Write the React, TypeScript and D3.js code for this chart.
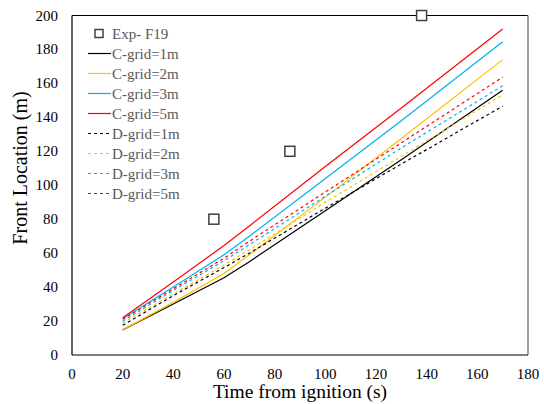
import React from "react";
import * as d3 from "d3";

const times = [20, 40, 60, 70, 100, 130, 170];
const cGrid1 = [14.8, 30, 45.5, 55, 85, 115, 156];
const cGrid2 = [14.8, 31, 48, 59, 93, 127.5, 174];
const cGrid3 = [21.3, 40, 59, 70, 104, 138, 184.5];
const cGrid5 = [22, 43, 64.5, 76, 111, 145.5, 192];
const dGrid1 = [17.5, 35, 51.5, 60, 86.5, 112.5, 146.6];
const dGrid2 = [19, 36, 53, 62, 90, 117, 153.3];
const dGrid3 = [20, 38, 55.5, 65, 93.5, 122, 158.6];
const dGrid5 = [21, 39, 57, 67, 96, 125, 163.7];
const expTimes = [56, 86, 138];
const expFront = [80, 120, 200];
const xTicks = [0, 20, 40, 60, 80, 100, 120, 140, 160, 180];
const yTicks = [0, 20, 40, 60, 80, 100, 120, 140, 160, 180, 200];

const seriesList = [
  { name: "C-grid=1m", values: cGrid1, color: "#000000", dashed: false },
  { name: "C-grid=2m", values: cGrid2, color: "#FFC000", dashed: false },
  { name: "C-grid=3m", values: cGrid3, color: "#00B0F0", dashed: false },
  { name: "C-grid=5m", values: cGrid5, color: "#FF0000", dashed: false },
  { name: "D-grid=1m", values: dGrid1, color: "#000000", dashed: true },
  { name: "D-grid=2m", values: dGrid2, color: "#FFC000", dashed: true },
  { name: "D-grid=3m", values: dGrid3, color: "#00B0F0", dashed: true },
  { name: "D-grid=5m", values: dGrid5, color: "#FF0000", dashed: true },
];

export default function App() {
  const W = 544, H = 404;
  const left = 72, right = 528, top = 15.5, bottom = 355;
  const x = d3.scaleLinear().domain([0, 180]).range([left, right]);
  const y = d3.scaleLinear().domain([0, 200]).range([bottom, top]);
  const line = d3.line<number>().x((_, i) => x(times[i])).y((d) => y(d));
  const font = "'Liberation Serif', 'Times New Roman', serif";
  const legX = 88, legY0 = 33.5, legDy = 20;

  return (
    <svg width={W} height={H} style={{ position: "absolute", left: 0, top: 0, background: "#fff" }}>
      <rect x={0} y={0} width={W} height={H} fill="#fff" />
      {/* plot border */}
      <line x1={left} x2={right} y1={top} y2={top} stroke="#000" strokeWidth={1.2} />
      <line x1={right} x2={right} y1={top} y2={bottom} stroke="#808080" strokeWidth={1.5} />
      <line x1={left} x2={left} y1={top} y2={bottom} stroke="#000" strokeWidth={1.2} />
      <line x1={left} x2={right} y1={bottom} y2={bottom} stroke="#000" strokeWidth={1.2} />

      {seriesList.map((s) => (
        <path
          key={s.name}
          d={line(s.values) || ""}
          fill="none"
          stroke={s.color}
          strokeWidth={1.2}
          strokeDasharray={s.dashed ? "3,3" : undefined}
        />
      ))}

      {expTimes.map((t, i) => (
        <rect
          key={i}
          x={x(t) - 5}
          y={y(expFront[i]) - 5}
          width={10}
          height={10}
          fill="#fff"
          stroke="#404040"
          strokeWidth={1.5}
        />
      ))}

      {xTicks.map((t) => (
        <text key={t} x={x(t)} y={379} textAnchor="middle" fontFamily={font} fontSize={15} fill="#000">
          {t}
        </text>
      ))}
      {yTicks.map((v) => (
        <text key={v} x={58} y={y(v) + 5} textAnchor="end" fontFamily={font} fontSize={15} fill="#000">
          {v}
        </text>
      ))}

      <text x={300} y={397.5} textAnchor="middle" fontFamily={font} fontSize={19.5} fill="#000">
        Time from ignition (s)
      </text>
      <text
        transform={`translate(27,${168}) rotate(-90)`}
        textAnchor="middle"
        fontFamily={font}
        fontSize={20}
        fill="#000"
      >
        Front Location (m)
      </text>

      {/* legend */}
      <rect x={95} y={legY0 - 4} width={8} height={8} fill="#fff" stroke="#404040" strokeWidth={1.5} />
      <text x={112} y={legY0 + 5} fontFamily={font} fontSize={15} fill="#595959">
        Exp- F19
      </text>
      {seriesList.map((s, i) => {
        const yy = legY0 + legDy * (i + 1);
        return (
          <g key={s.name}>
            <line
              x1={legX}
              x2={legX + 23}
              y1={yy}
              y2={yy}
              stroke={s.color}
              strokeWidth={1.2}
              strokeDasharray={s.dashed ? "3,3" : undefined}
            />
            <text x={112} y={yy + 5} fontFamily={font} fontSize={15} fill="#595959">
              {s.name}
            </text>
          </g>
        );
      })}
    </svg>
  );
}
